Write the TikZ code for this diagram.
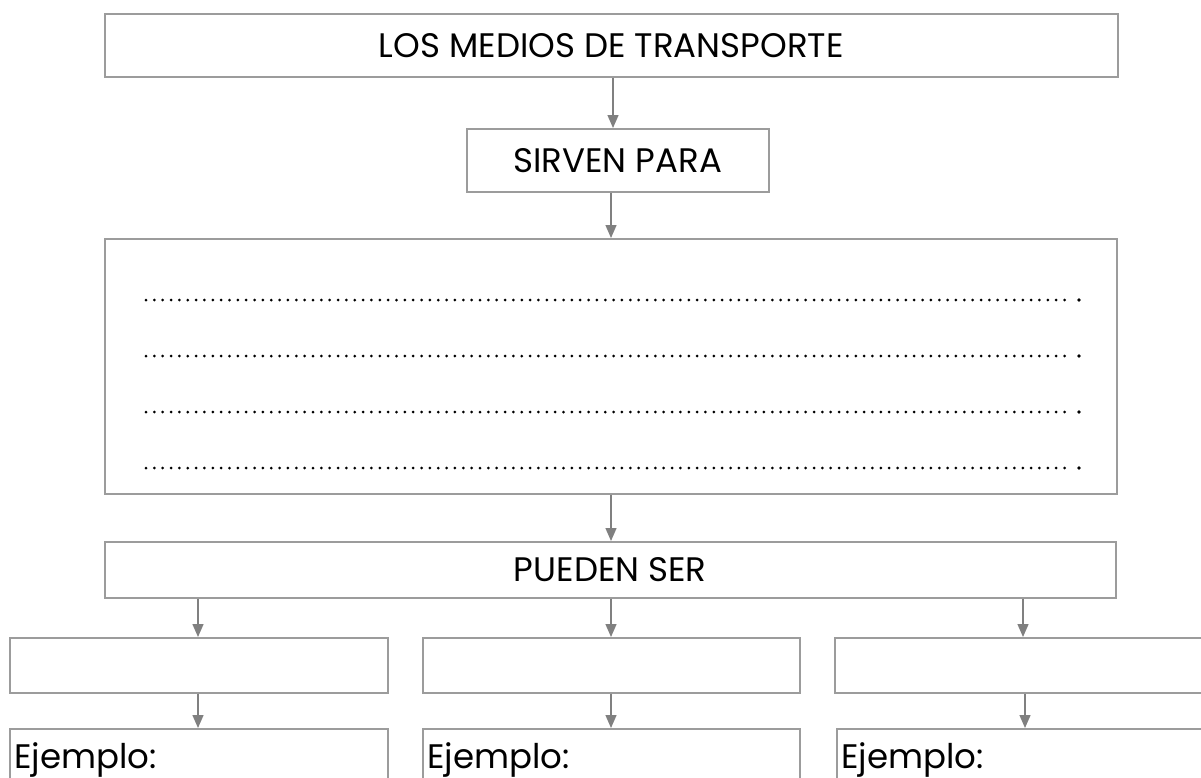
\documentclass[tikz,border=0pt]{standalone}
\usepackage{fontspec}
\setmainfont{Poppins}
\usetikzlibrary{arrows.meta}
\definecolor{boxgray}{HTML}{9C9C9C}
\definecolor{arrgray}{HTML}{808080}
\begin{document}
\begin{tikzpicture}[x=1pt,y=-1pt,
  box/.style={draw=boxgray, line width=1.5pt, inner sep=0pt, anchor=north west},
  arr/.style={draw=arrgray, line width=1.4pt, -{Triangle[length=13pt,width=11pt]}},
  lbl/.style={font=\fontsize{34}{40}\selectfont, text=black},
  dots/.style={line width=3pt, line cap=round, dash pattern=on 0pt off 8.35pt}
]
\useasboundingbox (0,0) rectangle (1201,777);
% boxes
\node[box, minimum width=1013pt, minimum height=63pt] (top) at (104,13) {};
\node[lbl] (toptxt) at (top.center) {LOS MEDIOS DE TRANSPORTE};
\node[box, minimum width=302pt, minimum height=63pt] (sirven) at (466,128) {};
\node[lbl] (sirventxt) at (sirven.center) {SIRVEN PARA};
\node[box, minimum width=1012pt, minimum height=255pt] (big) at (104,238) {};
\node[box, minimum width=1011pt, minimum height=56pt] (pueden) at (104,541) {};
\node[lbl] (puedentxt) at (pueden.center) {PUEDEN SER};
\node[box, minimum width=378pt, minimum height=55pt] (a1) at (9,637) {};
\node[box, minimum width=377pt, minimum height=55pt] (a2) at (422,637) {};
\node[box, minimum width=378pt, minimum height=55pt] (a3) at (834,637) {};
\node[box, minimum width=378pt, minimum height=80pt] (e1) at (9,728) {};
\node[box, minimum width=377pt, minimum height=80pt] (e2) at (422,728) {};
\node[box, minimum width=378pt, minimum height=80pt] (e3) at (836,728) {};
\node[lbl, anchor=base west] (e1t) at (11,768) {Ejemplo:};
\node[lbl, anchor=base west] (e2t) at (424,768) {Ejemplo:};
\node[lbl, anchor=base west] (e3t) at (838,768) {Ejemplo:};
% dotted lines
\foreach \yy in {300,356,412,468}{
  \draw[dots] (146,\yy) -- (1069,\yy);
  \fill (1079,\yy) circle (1.8pt);
}
% connectors
\draw[arr] (top.south -| 613,0) -- (sirven.north -| 613,0);
\draw[arr] (sirven.south -| 611,0) -- (big.north -| 611,0);
\draw[arr] (big.south -| 611,0) -- (pueden.north -| 611,0);
\draw[arr] (pueden.south -| 198,0) -- (a1.north -| 198,0);
\draw[arr] (pueden.south -| 611,0) -- (a2.north -| 611,0);
\draw[arr] (pueden.south -| 1023,0) -- (a3.north -| 1023,0);
\draw[arr] (a1.south -| 198,0) -- (e1.north -| 198,0);
\draw[arr] (a2.south -| 611,0) -- (e2.north -| 611,0);
\draw[arr] (a3.south -| 1025,0) -- (e3.north -| 1025,0);
\end{tikzpicture}
\end{document}
